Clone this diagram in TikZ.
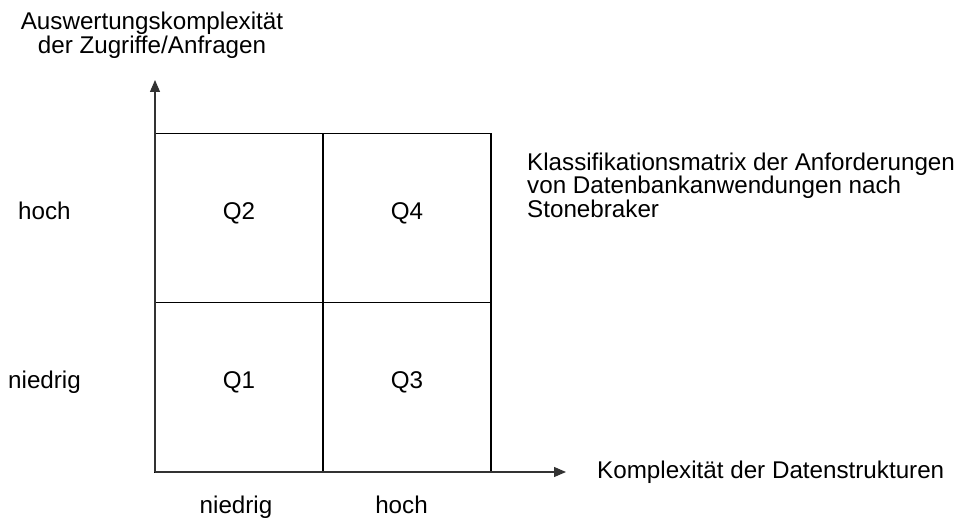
\documentclass[tikz,border=0pt]{standalone}
\usepackage{fontspec}
\setmainfont{Liberation Sans}
\usetikzlibrary{arrows.meta}

\begin{document}
\begin{tikzpicture}[x=1pt,y=-1pt,
  every node/.style={font=\fontsize{24.2}{23.5}\selectfont},
  quad/.style={draw,line width=1.4pt,minimum width=168pt,minimum height=169.5pt,inner sep=0pt,text height=3pt,text depth=0pt},
  axis/.style={line width=1.1pt,black!80,-{Triangle[length=12pt,width=10pt]}}]
\useasboundingbox (0,0) rectangle (956,518);
\node[quad] (Q1) at (239,387.5) {Q1};
\node[quad] (Q3) at (407,387.5) {Q3};
\node[quad] (Q2) at (239,218) {Q2};
\node[quad] (Q4) at (407,218) {Q4};
\coordinate (O) at (155,472);
\coordinate (ytip) at (155,80);
\coordinate (xtip) at (566,472);
\draw[axis] (O) -- (ytip);
\draw[axis] (O) -- (xtip);
\node[align=center] (ylab) at (152,35) {Auswertungskomplexität\\der Zugriffe/Anfragen};
\node[anchor=base west,inner sep=0pt] (xlab) at (597,478) {Komplexität der Datenstrukturen};
\node[anchor=north west,align=left,inner sep=0pt] (title) at (527,152.5) {Klassifikationsmatrix der Anforderungen\\von Datenbankanwendungen nach\\Stonebraker};
\node[anchor=base west,inner sep=0pt] (yhoch) at (18,219.5) {hoch};
\node[anchor=base west,inner sep=0pt] (yniedrig) at (8,389) {niedrig};
\node[anchor=base] (xniedrig) at (236,513) {niedrig};
\node[anchor=base] (xhoch) at (401.5,513) {hoch};
\end{tikzpicture}
\end{document}
